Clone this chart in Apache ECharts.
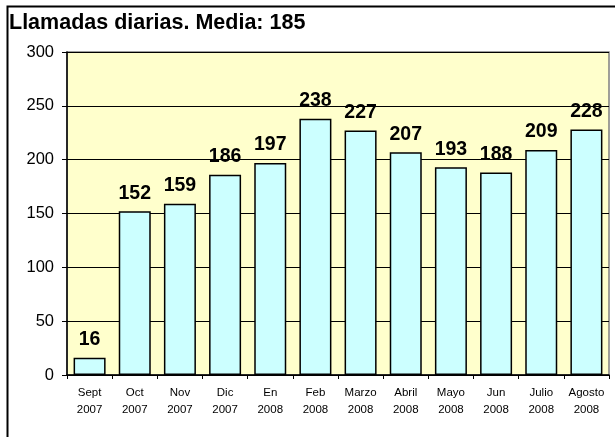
<!DOCTYPE html>
<html>
<head>
<meta charset="utf-8">
<script src="https://cdn.jsdelivr.net/npm/echarts@6/dist/echarts.min.js"></script>
<style>
  html, body { margin: 0; padding: 0; background: #fff; }
  #main { width: 615px; height: 437px; }
</style>
</head>
<body>
<div id="main"></div>
<script>
const months = ["Sept", "Oct", "Nov", "Dic", "En", "Feb", "Marzo", "Abril", "Mayo", "Jun", "Julio", "Agosto"];
const years = ["2007", "2007", "2007", "2007", "2008", "2008", "2008", "2008", "2008", "2008", "2008", "2008"];
const llamadas = [16, 152, 159, 186, 197, 238, 227, 207, 193, 188, 209, 228];
const yTicks = [0, 50, 100, 150, 200, 250, 300];

const categories = months.map((m, i) => m + "\n" + years[i]);

const myChart = echarts.init(document.getElementById("main"));

myChart.setOption({
  animation: false,
  title: {
    text: "Llamadas diarias. Media: 185",
    left: 9,
    top: 12,
    padding: 0,
    textStyle: {
      fontFamily: "Liberation Sans, Arial, sans-serif",
      fontSize: 21.5,
      fontWeight: "bold",
      color: "#000"
    }
  },
  // marco exterior del gráfico (recortado a la derecha y abajo)
  graphic: [{
    type: "rect",
    left: 5,
    top: 4,
    shape: { width: 700, height: 500 },
    style: { fill: "none", stroke: "#000", lineWidth: 2 },
    silent: true
  }],
  grid: {
    left: 67,
    right: 6,
    top: 52,
    bottom: 62,
    show: true,
    backgroundColor: "#FFFFCC",
    borderColor: "#808080",
    borderWidth: 1.5
  },
  xAxis: {
    type: "category",
    data: categories,
    axisLine: { lineStyle: { color: "#000", width: 1.5 } },
    axisTick: { show: true, length: 4, lineStyle: { color: "#000" } },
    axisLabel: {
      interval: 0,
      margin: 9,
      fontFamily: "Liberation Sans, Arial, sans-serif",
      fontSize: 11.5,
      lineHeight: 17,
      color: "#000"
    }
  },
  yAxis: {
    type: "value",
    min: yTicks[0],
    max: yTicks[yTicks.length - 1],
    interval: 50,
    axisLine: { show: true, lineStyle: { color: "#000", width: 1.5 } },
    axisTick: { show: true, length: 5, lineStyle: { color: "#000" } },
    axisLabel: {
      margin: 13,
      fontFamily: "Liberation Sans, Arial, sans-serif",
      fontSize: 16.5,
      color: "#000"
    },
    splitLine: { lineStyle: { color: "#000", width: 1 } }
  },
  series: [{
    type: "bar",
    data: llamadas,
    barWidth: 32,
    itemStyle: {
      color: "#CCFFFF",
      borderColor: "#000",
      borderWidth: 1.5
    },
    label: {
      show: true,
      position: "top",
      distance: 8,
      fontFamily: "Liberation Sans, Arial, sans-serif",
      fontSize: 19.5,
      fontWeight: "bold",
      color: "#000"
    }
  }]
});
</script>
</body>
</html>
